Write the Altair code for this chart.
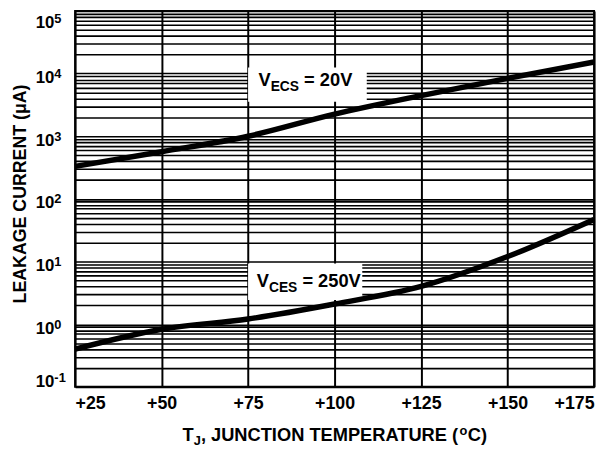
import altair as alt
import pandas as pd

# ---------------- data ----------------
temps = [25, 50, 75, 100, 125, 150, 175]
i_vecs_20v = [330, 565, 1000, 2250, 4450, 8400, 15300]      # uA
i_vces_250v = [0.40, 0.83, 1.21, 2.1, 4.0, 12.0, 47.0]      # uA

x_ticks = [25, 50, 75, 100, 125, 150, 175]
decade_exps = [-1, 0, 1, 2, 3, 4, 5]
mantissas = [1, 2, 3, 4, 5, 6, 7, 8, 9]
grid_values = [m * 10.0 ** e for e in range(-1, 5) for m in mantissas] + [1e5]

# annotation boxes (temperature range, current range) and text anchors
box_t1 = [75, 75]
box_t2 = [109.3, 108.0]
box_i1 = [3540, 2.44]
box_i2 = [12500, 9.27]
label_t = [78.0, 77.5]
label_i = [6370, 3.86]
label_sub = ["ECS", "CES"]
label_tail = ["= 20V", "= 250V"]

FONT = "Liberation Sans"
W, H = 526, 381

# Arial/Liberation Sans Bold advance widths (1/1000 em)
AW = {' ': 278, ',': 278, '(': 333, ')': 333, '+': 584, '=': 584,
      '-': 333, 'A': 722, 'C': 722, 'E': 667, 'G': 778, 'I': 278, 'J': 556,
      'K': 722, 'L': 611, 'M': 833, 'N': 722, 'O': 778, 'P': 667, 'R': 722,
      'S': 667, 'T': 611, 'U': 722, 'V': 667, 'o': 611}
for d in "0123456789":
    AW[d] = 556


def tw(s, size):
    return sum(AW[c] for c in s) * size / 1000.0


xscale = alt.Scale(domain=[25, 175], nice=False, zero=False)
yscale = alt.Scale(type="log", domain=[0.1, 1e5], nice=False)

x_axis = alt.Axis(values=x_ticks, labelExpr="'+' + datum.value", labelFlush=True,
                  grid=True, gridColor="black", gridWidth=2, gridOpacity=1,
                  ticks=False, domain=False, labelFont=FONT, labelFontSize=18,
                  labelFontWeight="bold", labelColor="black", labelPadding=8,
                  title=None)
y_axis = alt.Axis(values=grid_values, labels=False, ticks=False, domain=False,
                  grid=True, gridColor="black", gridWidth=1.6, gridOpacity=1,
                  title=None)


def X(field):
    return alt.X(field, scale=xscale, axis=x_axis)


def Y(field):
    return alt.Y(field, scale=yscale, axis=y_axis)


curves = pd.DataFrame({
    "T": temps + temps,
    "I": i_vecs_20v + i_vces_250v,
    "series": ["VECS20"] * len(temps) + ["VCES250"] * len(temps),
})

boxes = pd.DataFrame({"t1": box_t1, "t2": box_t2, "i1": box_i1, "i2": box_i2})

rects = alt.Chart(boxes).mark_rect(color="white").encode(
    x=X("t1:Q"), x2="t2:Q", y=Y("i1:Q"), y2="i2:Q")

lines = alt.Chart(curves).mark_line(color="black", strokeWidth=5.5,
                                    interpolate="monotone").encode(
    x=X("T:Q"), y=Y("I:Q"), detail="series:N")

layers = [rects, lines]

# ---- curve annotations: V with subscript ----
MAIN, SUB = 18.5, 14
for k in range(2):
    df = pd.DataFrame({"t": [label_t[k]], "i": [label_i[k]]})
    segs = [("V", MAIN, 0, 0.0), (label_sub[k], SUB, 5, 0.0),
            (label_tail[k], MAIN, 0, tw(" ", MAIN))]
    off = 0.0
    for txt, size, dy, gap in segs:
        off += gap
        layers.append(
            alt.Chart(df).mark_text(text=txt, align="left", baseline="alphabetic",
                                    font=FONT, fontWeight="bold", fontSize=size,
                                    color="black", dx=off, dy=dy).encode(
                x=X("t:Q"), y=Y("i:Q"))
        )
        off += tw(txt, size)


# ---- y tick labels 10^n ----
def ylabels(exps, dy):
    df = pd.DataFrame({"v": [10.0 ** e for e in exps], "e": [str(e) for e in exps]})
    base = alt.Chart(df).mark_text(text="10", align="right", baseline="alphabetic",
                                   font=FONT, fontWeight="bold", fontSize=17,
                                   color="black", dy=dy).encode(
        x=alt.value(-21), y=Y("v:Q"))
    sup = alt.Chart(df).mark_text(align="left", baseline="alphabetic",
                                  font=FONT, fontWeight="bold", fontSize=13,
                                  color="black", dy=dy - 5).encode(
        x=alt.value(-21), y=Y("v:Q"), text="e:N")
    return [base, sup]


layers += ylabels([decade_exps[0]], 0)
layers += ylabels(decade_exps[1:-1], 9.5)
layers += ylabels([decade_exps[-1]], 17)

# ---- y title ----
layers.append(
    alt.Chart(pd.DataFrame({"a": [0]})).mark_text(
        text="LEAKAGE CURRENT (μA)", angle=270, align="center", baseline="middle",
        font=FONT, fontWeight="bold", fontSize=18, color="black").encode(
        x=alt.value(-54.5), y=alt.value(H / 2 - 5))
)

# ---- x title with subscript / superscript ----
tsegs = [("T", 18.5, 0), ("J", 13, 3.5), (", JUNCTION TEMPERATURE (", 18.5, 0),
         ("o", 13, -6), ("C)", 18.5, 0)]
total = sum(tw(s, f) for s, f, _ in tsegs)
xpos = W / 2 - total / 2
for s, f, dy in tsegs:
    layers.append(
        alt.Chart(pd.DataFrame({"a": [0]})).mark_text(
            text=s, align="left", baseline="alphabetic", font=FONT,
            fontWeight="bold", fontSize=f, color="black", dy=dy).encode(
            x=alt.value(xpos), y=alt.value(H + 55))
    )
    xpos += tw(s, f) + (0.5 if s == "o" else 0)

chart = alt.layer(*layers).properties(
    width=W, height=H, background="white",
    padding={"left": 68, "top": 0, "right": 6, "bottom": 58},
    autosize=alt.AutoSizeParams(type="none"),
).configure_view(stroke="black", strokeWidth=2)

chart.save("out.html", embed_options={"renderer": "svg", "actions": False})
